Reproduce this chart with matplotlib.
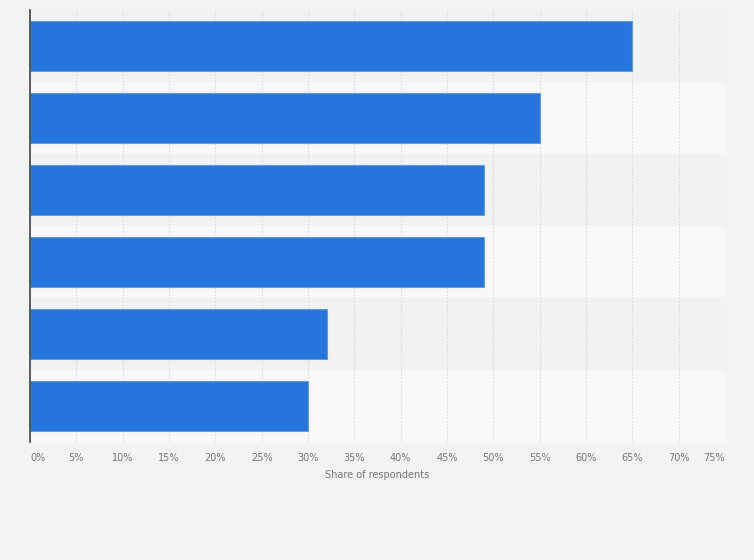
import matplotlib.pyplot as plt

# values, top bar first
shares = [65, 55, 49, 49, 32, 30]
ticks = [0, 5, 10, 15, 20, 25, 30, 35, 40, 45, 50, 55, 60, 65, 70, 75]
tick_labels = [f"{t}%" for t in ticks]

bg = "#f3f3f3"
fig = plt.figure(figsize=(7.54, 5.6), dpi=100)
fig.patch.set_facecolor(bg)
ax = fig.add_axes([30 / 754, 1 - 442 / 560, 695 / 754, 432 / 560])
ax.set_facecolor(bg)

n = len(shares)
ypos = list(range(n))

# alternating row bands
for i in ypos:
    ax.axhspan(i - 0.5, i + 0.5, color="#f2f2f2" if i % 2 == 0 else "#f8f8f8", zorder=0)

ax.barh(ypos, shares, height=0.69, color="#2675dc", edgecolor="#5c9be8",
        linewidth=0.8, zorder=3)

ax.set_xlim(0, 75)
ax.set_ylim(n - 0.5, -0.5)
ax.set_xticks(ticks)
ax.set_xticklabels(tick_labels, fontsize=7, color="#777777")
labs = ax.get_xticklabels()
labs[0].set_horizontalalignment("left")
labs[-1].set_horizontalalignment("right")
ax.set_yticks([])
ax.tick_params(axis="x", length=0, pad=8)
ax.grid(axis="x", color="#dcdcdc", linestyle=(0, (1.5, 1.5)), linewidth=0.8, zorder=1)

for s in ["top", "right", "bottom"]:
    ax.spines[s].set_visible(False)
ax.spines["left"].set_color("#444444")
ax.spines["left"].set_linewidth(1.2)
ax.spines["left"].set_zorder(4)

ax.set_xlabel("Share of respondents", fontsize=7, color="#777777", labelpad=5)

fig.savefig("out.png", dpi=100, facecolor=bg)
